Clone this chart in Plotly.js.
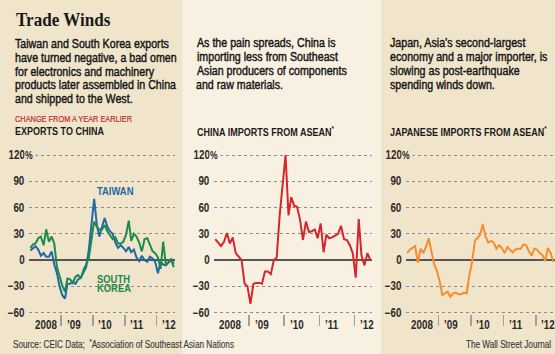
<!DOCTYPE html>
<html><head><meta charset="utf-8">
<script src="https://cdn.plot.ly/plotly-3.0.1.min.js"></script>
<style>html,body{margin:0;padding:0;background:#f0e5ca;}#chart{width:555px;height:354px;}</style>
</head><body><div id="chart"></div>
<script>
// ---- data (monthly, year-over-year % change, starting Jan 2008) ----
const startYear = 2008;
const taiwan = [11,14,16,12,5,8,4,4,10,-5,-15,-30,-40,-44,-27,-27,-25,-27,-22,-20,-13,-8,12,38,
  70,40,27,38,48,38,33,30,20,14,17,14,10,15,9,12,3,-1,5,0,-2,4,2,-2,-15,-2,-5,-6,-3,1,-4];
const korea = [14,18,19,25,27,17,35,21,27,19,-8,-19,-29,-36,-21,-22,-26,-19,-17,-21,-11,-5,2,23,
  44,38,35,35,40,33,28,24,26,19,19,21,29,45,22,30,27,20,10,24,25,17,10,8,3,-10,21,-5,-3,0,-8];
const chinaAsean = [24,20,16,21,31,19,26,8,4,0,-27,-30,-50,-27,-26,-26,-27,-13,-13,-16,0,3,51,88,
  120,51,72,62,61,46,23,44,32,33,35,25,42,9,29,25,26,28,30,39,24,23,17,8,-20,47,5,-6,8,0];
const japanAsean = [8,12,14,16,-3,13,8,15,25,12,-5,-12,-24,-40,-38,-36,-42,-38,-37,-39,-39,-37,-38,-17,
  -2,22,25,29,41,27,20,22,20,13,17,14,8,15,12,9,12,13,13,18,17,10,5,13,12,8,6,-1,14,8,-2];

const yTickVals = [-60,-30,0,30,60,90,120];
const yTickText = ['\u221260','\u221230','0','30','60','90','120'];
const yearStarts = ['2008-01-01','2009-01-01','2010-01-01','2011-01-01','2012-01-01'];
const yearLabels = ['2008','\u201909','\u201910','\u201911','\u201912'];
const seriesLabels = ['TAIWAN','SOUTH','KOREA'];

// ---- helpers ----
const W = 555, H = 354;
const px = v => v / W;
const py = v => 1 - v / H;
function monthDates(n){
  const out = [];
  for (let i = 0; i < n; i++){
    const y = startYear + Math.floor(i/12), m = i % 12 + 1;
    out.push(y + '-' + String(m).padStart(2,'0') + '-15');
  }
  return out;
}

const SANS = '"Liberation Sans",Arial,sans-serif';
const SERIF = '"Liberation Serif","Times New Roman",serif';
const TAN = '#f0e5ca', LIGHT = '#f8f1e2';
const C_TW = '#2168a6', C_KR = '#1b8a4c', C_CN = '#d3272e', C_JP = '#f68d2e';
const NARROW = 0.82;

const panels = [
  {x0: 29.1, x1: 175.3, end: '2012-08-01', bg: TAN},
  {x0: 213.9, x1: 371.9, end: '2012-07-01', bg: LIGHT},
  {x0: 405.8, x1: 554.8, end: '2012-08-01', bg: TAN}
];

const traces = [
  {x: monthDates(taiwan.length), y: taiwan, name: 'Taiwan', xaxis: 'x', yaxis: 'y',
   type: 'scatter', mode: 'lines', line: {color: C_TW, width: 2}},
  {x: monthDates(korea.length), y: korea, name: 'South Korea', xaxis: 'x', yaxis: 'y',
   type: 'scatter', mode: 'lines', line: {color: C_KR, width: 2}},
  {x: monthDates(chinaAsean.length), y: chinaAsean, name: 'China', xaxis: 'x2', yaxis: 'y2',
   type: 'scatter', mode: 'lines', line: {color: C_CN, width: 2}},
  {x: monthDates(japanAsean.length), y: japanAsean, name: 'Japan', xaxis: 'x3', yaxis: 'y3',
   type: 'scatter', mode: 'lines', line: {color: C_JP, width: 2}}
];

const layout = {
  width: W, height: H, margin: {l:0, r:0, t:0, b:0},
  paper_bgcolor: TAN, plot_bgcolor: 'rgba(0,0,0,0)',
  showlegend: false,
  shapes: [
    {type:'rect', xref:'paper', yref:'paper', x0: px(182.5), x1: px(381), y0: 0, y1: 1,
     fillcolor: LIGHT, line: {width: 0}, layer: 'below'}
  ],
  annotations: []
};

const ann = layout.annotations;
const annScale = [], annStroke = [];
function add(a, scale, stroke){
  ann.push(Object.assign({showarrow:false, xanchor:'left', yanchor:'middle', align:'left'}, a));
  annScale.push(scale === undefined ? NARROW : scale);
  annStroke.push(stroke || 0);
}
function txt(text, x, y, font, extra, stroke){
  add(Object.assign({text, x: px(x), y: py(y), xref:'paper', yref:'paper',
    font: Object.assign({family: SANS, size: 13, color:'#1e1e1e'}, font || {})}, extra || {}),
    undefined, stroke);
}

panels.forEach((p, i) => {
  const s = i === 0 ? '' : String(i+1);
  layout['xaxis' + s] = {
    type:'date', domain:[px(p.x0), Math.min(1, px(p.x1))], range:['2008-01-01', p.end],
    anchor: 'y' + s, tickvals: yearStarts.slice(1), ticks:'outside', ticklen: 11,
    tickcolor:'#a0a0a0', tickwidth: 1.5, showticklabels:false, showgrid:false,
    zeroline:false, showline:false, fixedrange:true
  };
  layout['yaxis' + s] = {
    domain:[py(314.45), py(153.25)], range:[-62,122], anchor:'x' + s,
    tickvals: yTickVals, ticks:'', showticklabels:false,
    showgrid:true, gridcolor:'#8c8c8c', griddash:'dot', gridwidth:1,
    zeroline:true, zerolinecolor:'#555555', zerolinewidth:1.6, showline:false, fixedrange:true
  };
  // y tick labels
  yTickVals.forEach((v, k) => {
    add({text: yTickText[k], xref:'paper', yref:'y' + s, x: px(p.x0), y: v, xanchor:'right',
      align:'right', xshift: -2, font:{family: SANS, size: 12, color:'#2a2a2a', weight:'bold'}});
  });
  // % sign after top tick label
  add({text:'%', xref:'paper', yref:'y' + s, x: px(p.x0), y: 120, xshift:-5,
    bgcolor: p.bg, borderpad:0, font:{family: SANS, size: 10.5, color:'#2a2a2a', weight:'bold'}});
  // year labels
  yearLabels.forEach((lab, k) => {
    add({text: lab, xref:'x' + s, yref:'paper', x: yearStarts[k], y: py(324.5), xshift: 3.5,
      font:{family: SANS, size: 12, color:'#2a2a2a', weight:'bold'}});
  });
});

// Title and text blocks
txt('Trade Winds', 13.5, 19.5, {family: SERIF, size: 19, color:'#1a1a1a', weight:'bold'});
annScale[annScale.length - 1] = 0.9;
const body1 = ['Taiwan and South Korea exports','have turned negative, a bad omen',
  'for electronics and machinery','products later assembled in China','and shipped to the West.'];
const body2 = ['As the pain spreads, China is','importing less from Southeast',
  'Asian producers of components','and raw materials.'];
const body3 = ['Japan, Asia\u2019s second-largest','economy and a major importer, is',
  'slowing as post-earthquake','spending winds down.'];
const BODY = {size: 13, color:'#161616'};
body1.forEach((l, k) => txt(l, 12.5, 43 + 14*k, BODY, null, 0.45));
body2.forEach((l, k) => txt(l, 194.5, 42.7 + 14.1*k, BODY, null, 0.45));
body3.forEach((l, k) => txt(l, 387.5, 42.5 + 14.1*k, BODY, null, 0.45));

txt('CHANGE FROM A YEAR EARLIER', 12.5, 119, {size: 9, color:'#c8262b'}, null, 0.2);
txt('EXPORTS TO CHINA', 12.5, 130.5, {size: 11, color:'#1a1a1a', weight:'bold'});
txt('CHINA IMPORTS FROM ASEAN<sup>*</sup>', 194.5, 130.5, {size: 11, color:'#1a1a1a', weight:'bold'});
txt('JAPANESE IMPORTS FROM ASEAN<sup>*</sup>', 387.5, 130.5, {size: 11, color:'#1a1a1a', weight:'bold'});

// series labels
txt(seriesLabels[0], 95, 191, {size: 11.5, color: C_TW, weight:'bold'});
txt(seriesLabels[1], 95, 278.5, {size: 11.5, color: C_KR, weight:'bold'});
txt(seriesLabels[2], 95, 287.8, {size: 11.5, color: C_KR, weight:'bold'});

// footer
txt('Source: CEIC Data;&nbsp; <sup>*</sup>Association of Southeast Asian Nations', 10.5, 344,
  {size: 10, color:'#3a3a3a'}, null, 0.15);
txt('The Wall Street Journal', 553, 344, {size: 10, color:'#3a3a3a'}, {xanchor:'right', align:'right'}, 0.15);

Plotly.newPlot('chart', traces, layout, {staticPlot: true, displayModeBar: false}).then(gd => {
  // emulate the condensed newspaper face by narrowing each text horizontally
  gd.querySelectorAll('g.annotation').forEach(g => {
    const idx = +g.getAttribute('data-index');
    const sc = annScale[idx], st = annStroke[idx];
    const t = g.querySelector('text.annotation-text');
    if (!t) return;
    if (st) {
      t.style.stroke = ann[idx].font.color;
      t.style.strokeWidth = st + 'px';
      t.style.paintOrder = 'stroke fill';
    }
    if (!sc || sc === 1) return;
    const anchor = t.getAttribute('text-anchor');
    t.style.transformBox = 'fill-box';
    t.style.transformOrigin = anchor === 'end' ? 'right center' : (anchor === 'middle' ? 'center center' : 'left center');
    t.style.transform = 'scaleX(' + sc + ')';
  });
});
</script>
</body></html>
